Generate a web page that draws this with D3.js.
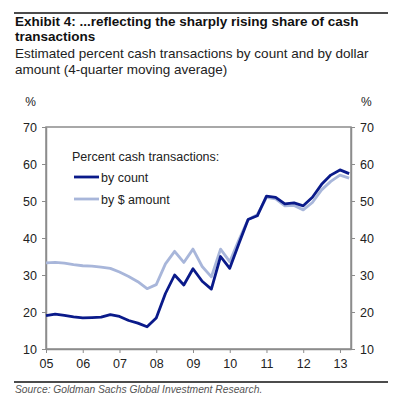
<!DOCTYPE html>
<html>
<head>
<meta charset="utf-8">
<style>
  body { margin: 0; background: white; }
  text { font-family: "Liberation Sans", Arial, sans-serif; }
</style>
</head>
<body>
    <script src="https://d3js.org/d3.v7.min.js"></script>
    <svg style="width:394px;height:400px;display:block;" />
    <script>
    // quarterly points, 2005 Q1 .. 2013 Q2
    const quarters = d3.range(0, 34).map(i => 2005 + i * 0.25)
    const byCount = [19.0, 19.4, 19.1, 18.7, 18.4, 18.5, 18.6, 19.3,
                     18.8, 17.7, 17.0, 16.0, 18.4, 25.0, 30.0, 27.3,
                     31.7, 28.3, 26.2, 35.0, 31.8, 38.5, 45.0, 46.0,
                     51.3, 51.0, 49.2, 49.5, 48.7, 51.0, 54.5, 57.0,
                     58.4, 57.4]
    const byAmount = [33.3, 33.4, 33.2, 32.8, 32.5, 32.4, 32.1, 31.8,
                      30.8, 29.6, 28.2, 26.3, 27.4, 33.0, 36.4, 33.4,
                      37.0, 32.3, 29.5, 37.0, 33.6, 39.5, 45.0, 46.3,
                      51.0, 50.6, 48.7, 48.8, 47.6, 49.6, 53.0, 55.3,
                      57.0, 56.2]
    const yearTicks = [2005, 2006, 2007, 2008, 2009, 2010, 2011, 2012, 2013]
    const yearLabels = ["05", "06", "07", "08", "09", "10", "11", "12", "13"]
    const pctTicks = [10, 20, 30, 40, 50, 60, 70]

    const dark = "#0a1a8a", light = "#a8b6da", grey = "#8c8c8c", textCol = "#222"
    const svg = d3.select("svg")

    // header
    svg.append("line").attr("x1", 14).attr("x2", 388).attr("y1", 13).attr("y2", 13)
        .attr("stroke", "#111").attr("stroke-width", 1.5)
    svg.append("text").attr("x", 15).attr("y", 26).attr("font-size", 13.5).attr("font-weight", "bold")
        .attr("fill", "#111").text("Exhibit 4: ...reflecting the sharply rising share of cash")
    svg.append("text").attr("x", 15).attr("y", 41).attr("font-size", 13.5).attr("font-weight", "bold")
        .attr("fill", "#111").text("transactions")
    svg.append("text").attr("x", 15).attr("y", 58).attr("font-size", 13.5)
        .attr("fill", textCol).text("Estimated percent cash transactions by count and by dollar")
    svg.append("text").attr("x", 15).attr("y", 74).attr("font-size", 13.5)
        .attr("fill", textCol).text("amount (4-quarter moving average)")

    const xScale = d3.scaleLinear().domain([2005, 2013.3]).range([46, 351])
    const yScale = d3.scaleLinear().domain([10, 70]).range([349, 127])

    // plot frame
    svg.append("rect").attr("x", 46).attr("y", 127).attr("width", 305).attr("height", 222)
        .attr("fill", "none").attr("stroke", grey).attr("stroke-width", 1.5)

    const xAxis = d3.axisBottom(xScale).tickValues(yearTicks)
        .tickFormat((d, i) => yearLabels[i]).tickSize(4).tickSizeOuter(0).tickPadding(6)
    const yLeft = d3.axisLeft(yScale).tickValues(pctTicks).tickSize(4).tickSizeOuter(0).tickPadding(5)
    const yRight = d3.axisRight(yScale).tickValues(pctTicks).tickSize(4).tickSizeOuter(0).tickPadding(5)

    svg.append("g").attr("class", "xAxisG").attr("transform", "translate(0,349)").call(xAxis)
    svg.append("g").attr("class", "yAxisG").attr("transform", "translate(46,0)").call(yLeft)
    svg.append("g").attr("class", "yAxisG").attr("transform", "translate(351,0)").call(yRight)
    svg.selectAll("g.xAxisG, g.yAxisG").selectAll("path").attr("stroke", grey).attr("stroke-width", 1.5)
    svg.selectAll("g.xAxisG, g.yAxisG").selectAll("line").attr("stroke", grey)
    svg.selectAll("g.xAxisG, g.yAxisG").selectAll("text")
        .attr("font-family", "Liberation Sans, Arial, sans-serif").attr("font-size", 12.5).attr("fill", textCol)

    svg.append("text").attr("x", 36).attr("y", 106).attr("text-anchor", "end")
        .attr("font-size", 12).attr("fill", textCol).text("%")
    svg.append("text").attr("x", 361).attr("y", 106)
        .attr("font-size", 12).attr("fill", textCol).text("%")

    // lines
    const amountLine = d3.line().x((d, i) => xScale(quarters[i])).y(d => yScale(d))
    const countLine = d3.line().x((d, i) => xScale(quarters[i])).y(d => yScale(d))
    svg.append("path").attr("d", amountLine(byAmount))
        .attr("fill", "none").attr("stroke", light).attr("stroke-width", 2.8).attr("stroke-linejoin", "round")
    svg.append("path").attr("d", countLine(byCount))
        .attr("fill", "none").attr("stroke", dark).attr("stroke-width", 2.8).attr("stroke-linejoin", "round")

    // legend
    svg.append("text").attr("x", 72).attr("y", 161).attr("font-size", 12.5)
        .attr("fill", textCol).text("Percent cash transactions:")
    const legend = [["by count", dark], ["by $ amount", light]]
    legend.forEach((l, i) => {
        const y = 177 + i * 22
        svg.append("line").attr("x1", 74).attr("x2", 99).attr("y1", y).attr("y2", y)
            .attr("stroke", l[1]).attr("stroke-width", 2.8)
        svg.append("text").attr("x", 101).attr("y", y + 4.5).attr("font-size", 12.5)
            .attr("fill", textCol).text(l[0])
    })

    // footer
    svg.append("line").attr("x1", 14).attr("x2", 388).attr("y1", 382).attr("y2", 382)
        .attr("stroke", "#111").attr("stroke-width", 1.5)
    svg.append("text").attr("x", 15).attr("y", 393).attr("font-size", 10.3).attr("font-style", "italic")
        .attr("fill", "#555").text("Source: Goldman Sachs Global Investment Research.")
  </script>
</body>
</html>
